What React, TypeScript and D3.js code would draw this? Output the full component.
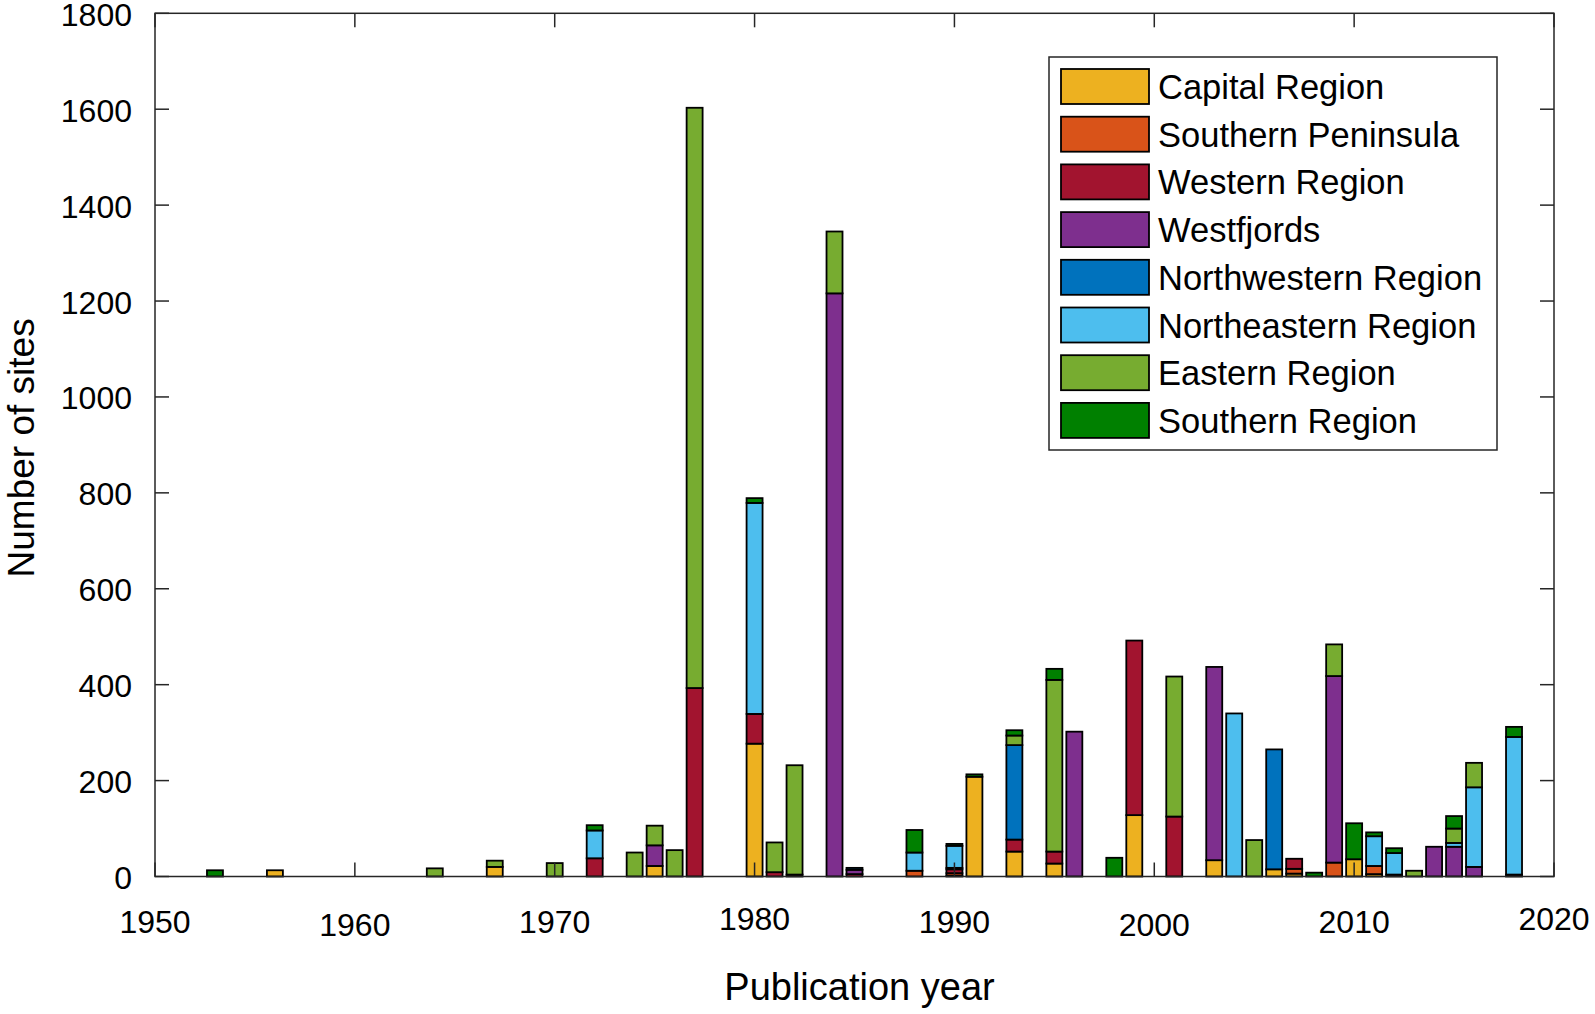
import React from 'react';
import * as d3 from 'd3';

// publication years that have at least one site
const years = [1953, 1956, 1964, 1967, 1970, 1972, 1974, 1975, 1976, 1977, 1980, 1981, 1982, 1984, 1985, 1988, 1990, 1991, 1993, 1995, 1996, 1998, 1999, 2001, 2003, 2004, 2005, 2006, 2007, 2008, 2009, 2010, 2011, 2012, 2013, 2014, 2015, 2016, 2018];

const capital = [0, 13, 0, 20, 0, 0, 0, 22, 0, 0, 277, 0, 0, 0, 0, 0, 2, 208, 52, 27, 0, 0, 128, 0, 34, 0, 0, 15, 6, 0, 0, 36, 5, 0, 0, 0, 0, 0, 0];
const southernPeninsula = [0, 0, 0, 0, 0, 0, 0, 0, 0, 0, 0, 0, 0, 0, 0, 12, 5, 0, 0, 0, 0, 0, 0, 0, 0, 0, 0, 0, 10, 0, 29, 0, 17, 0, 0, 0, 0, 0, 0];
const western = [0, 0, 0, 0, 0, 38, 0, 0, 0, 393, 62, 9, 4, 0, 5, 0, 8, 0, 25, 25, 0, 0, 364, 125, 0, 0, 0, 0, 21, 0, 0, 0, 0, 4, 0, 0, 0, 0, 4];
const westfjords = [0, 0, 0, 0, 0, 0, 0, 43, 0, 0, 0, 0, 0, 1216, 9, 0, 3, 0, 0, 0, 302, 0, 0, 0, 403, 0, 0, 0, 0, 0, 389, 0, 0, 0, 0, 62, 62, 20, 0];
const northwestern = [0, 0, 0, 0, 0, 0, 0, 0, 0, 0, 0, 0, 0, 0, 4, 0, 0, 0, 197, 0, 0, 0, 0, 0, 0, 0, 0, 250, 0, 0, 0, 0, 0, 0, 0, 0, 0, 0, 0];
const northeastern = [0, 0, 0, 0, 0, 58, 0, 0, 0, 0, 440, 0, 0, 0, 0, 38, 46, 0, 0, 0, 0, 0, 0, 0, 0, 340, 0, 0, 0, 0, 0, 0, 62, 45, 0, 0, 8, 166, 287];
const eastern = [0, 0, 17, 13, 28, 0, 50, 41, 55, 1210, 0, 62, 228, 129, 0, 0, 0, 0, 20, 358, 0, 0, 0, 292, 0, 0, 76, 0, 0, 0, 66, 0, 0, 0, 12, 0, 30, 51, 0];
const southern = [13, 0, 0, 0, 0, 11, 0, 0, 0, 0, 10, 0, 0, 0, 0, 47, 4, 5, 11, 23, 0, 39, 0, 0, 0, 0, 0, 0, 0, 8, 0, 75, 8, 10, 0, 0, 26, 0, 21];

const regions = ['Capital Region', 'Southern Peninsula', 'Western Region', 'Westfjords', 'Northwestern Region', 'Northeastern Region', 'Eastern Region', 'Southern Region'];
const series = [capital, southernPeninsula, western, westfjords, northwestern, northeastern, eastern, southern];
const colors = ['#EDB120', '#D95319', '#A2142F', '#7E2F8E', '#0072BD', '#4DBEEE', '#77AC30', '#008000'];

const xTicks = [1950, 1960, 1970, 1980, 1990, 2000, 2010, 2020];
const yTicks = [0, 200, 400, 600, 800, 1000, 1200, 1400, 1600, 1800];

const W = 1595;
const H = 1014;
const left = 155, right = 1554, top = 13.3, bottom = 876.5;
const font = '"Liberation Sans", Arial, sans-serif';
const axisColor = '#262626';

// x tick labels jitter a little in height in the source image
const xLabelY = [922, 925, 922, 919, 922, 925, 922, 919];

const App = () => {
    const x = d3.scaleLinear().domain([1950, 2020]).range([left, right]);
    const y = d3.scaleLinear().domain([0, 1800]).range([bottom, top]);
    const barW = x(1950.8) - x(1950);

    const table = years.map((yr, i) => {
        const row: any = { year: yr };
        regions.forEach((r, k) => { row[r] = series[k][i]; });
        return row;
    });
    const stacked = d3.stack().keys(regions)(table);

    const tickLen = 14;

    return (
        <svg width={W} height={H} style={{ position: 'absolute', left: 0, top: 0, background: '#fff' }} fontFamily={font}>
            <rect x={0} y={0} width={W} height={H} fill="#fff" />
            {/* bars */}
            {stacked.map((layer, k) => (
                <g key={regions[k]} fill={colors[k]} stroke="#000" strokeWidth={1.8}>
                    {layer.map((d, i) => d[1] - d[0] > 0 ? (
                        <rect key={i}
                            x={x(years[i]) - barW / 2}
                            y={y(d[1])}
                            width={barW}
                            height={y(d[0]) - y(d[1])} />
                    ) : null)}
                </g>
            ))}

            {/* axes box and ticks */}
            <g stroke={axisColor} strokeWidth={1.5} fill="none">
                <rect x={left} y={top} width={right - left} height={bottom - top} />
                {xTicks.map(t => (
                    <g key={'x' + t}>
                        <line x1={x(t)} x2={x(t)} y1={bottom} y2={bottom - tickLen} />
                        <line x1={x(t)} x2={x(t)} y1={top} y2={top + tickLen} />
                    </g>
                ))}
                {yTicks.map(t => (
                    <g key={'y' + t}>
                        <line x1={left} x2={left + tickLen} y1={y(t)} y2={y(t)} />
                        <line x1={right} x2={right - tickLen} y1={y(t)} y2={y(t)} />
                    </g>
                ))}
            </g>

            {/* tick labels */}
            <g fontSize={32} fill="#000">
                {xTicks.map((t, i) => (
                    <text key={'xl' + t} x={x(t)} y={xLabelY[i]} textAnchor="middle" dominantBaseline="central">{t}</text>
                ))}
                {yTicks.map(t => (
                    <text key={'yl' + t} x={132} y={y(t) + 1.5} textAnchor="end" dominantBaseline="central">{t}</text>
                ))}
            </g>

            {/* axis titles */}
            <text x={(left + right) / 2 + 5} y={1000} textAnchor="middle" fontSize={38}>Publication year</text>
            <text transform={`translate(34, ${(top + bottom) / 2 + 3}) rotate(-90)`} textAnchor="middle" fontSize={37}>Number of sites</text>

            {/* legend */}
            <g>
                <rect x={1049} y={57} width={448} height={393} fill="#fff" stroke={axisColor} strokeWidth={1.5} />
                {regions.map((r, k) => {
                    const yy = 69 + k * 47.7;
                    return (
                        <g key={r}>
                            <rect x={1061} y={yy} width={88} height={35} fill={colors[k]} stroke="#000" strokeWidth={1.8} />
                            <text x={1158} y={yy + 18} fontSize={34.5} dominantBaseline="central">{r}</text>
                        </g>
                    );
                })}
            </g>
        </svg>
    );
};

export default App;
